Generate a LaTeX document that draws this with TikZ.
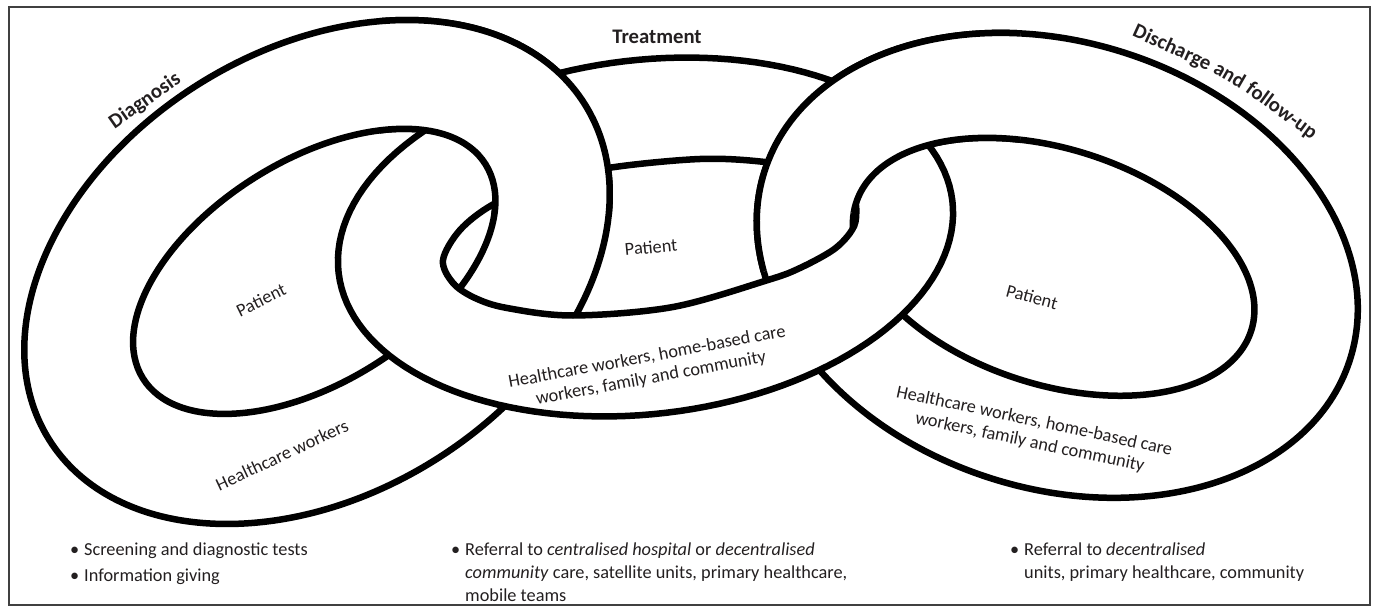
\documentclass[tikz,border=0pt]{standalone}
\usepackage{fontspec}
\setmainfont{Carlito}
\usetikzlibrary{calc}
\definecolor{txt}{RGB}{35,31,32}
\newcommand\ttlfont{\fontsize{20.7}{24}\selectfont\bfseries}
\newcommand\ringL{\path[ring, rotate around={32:(317,272)}] (317,272) ellipse [x radius=316, y radius=222] (315,270) ellipse [x radius=202, y radius=111];}
\newcommand\ringM{\path[ring]
  plot[domain=0:360, samples=145, variable=\t] ({645.5+309*cos(\t)*cos(6.7)-177*sin(\t)*sin(6.7)}, {237-309*cos(\t)*sin(6.7)-177*sin(\t)*cos(6.7)}) -- cycle
  plot[smooth cycle, tension=0.55] coordinates {(443,260) (453,283) (475,298) (507,308) (573,315.5) (673,307) (768,280) (800,268) (833,250) (850,233) (856,218) (852,195) (820,172) (765,162) (700,159) (608,168) (540,184) (492,205) (460,230)};}
\newcommand\ringR{\path[ring, rotate around={-18:(1056,266)}] (1057,265) ellipse [x radius=307.5, y radius=223] (1054,267.5) ellipse [x radius=207.6, y radius=117.6];}
\begin{document}
\begin{tikzpicture}[x=1pt,y=-1pt,
  ring/.style={draw=black, fill=white, even odd rule, line width=6.5pt},
  lbl/.style={font=\fontsize{18.3}{21.5}\selectfont, text=txt, align=center, inner sep=0pt},
  ttl/.style={font=\ttlfont, text=txt, inner sep=0pt},
  bul/.style={font=\fontsize{18.3}{23}\selectfont, text=txt, inner sep=0pt, anchor=base west}]
\useasboundingbox (0,0) rectangle (1375,612);
\draw[line width=2pt, draw=black!75] (9,7) rectangle (1370,605);

\ringL
\ringR
\ringM
\begin{scope}
  \clip (380,-10) rectangle (700,215);
  \ringL
\end{scope}
\begin{scope}
  \clip (700,-10) -- (1020,-10) -- (1020,212) -- (852,212) -- (830,240) -- (790,262) -- (740,280) -- (700,280) -- cycle;
  \ringR
\end{scope}

\node[ttl] (treat) at (657,37) {Treatment};
\node[ttl, rotate=35] (diag) at (145,101) {Diagnosis};
\node[ttl, rotate=-24.5] (dis1) at (1172,48) {Discharge};
\node[ttl, rotate=-30, anchor=base west] (dis2) at ($(dis1.base east)+(-27:4.7pt)$) {and};
\node[ttl, rotate=-36, anchor=base west] (dis3) at ($(dis2.base east)+(-33:4.7pt)$) {follow-up};

\node[lbl, rotate=26] (pL) at (261,300) {Patient};
\node[lbl, rotate=5.5] (pM) at (651,247) {Patient};
\node[lbl, rotate=-15] (pR) at (1032,297) {Patient};
\node[lbl, rotate=25] (hL) at (282,455) {Healthcare workers};
\node[lbl, rotate=10.5] (hM) at (649,368) {Healthcare workers, home-based care\\workers, family and community};
\node[lbl, rotate=-12] (hR) at (1032,432) {Healthcare workers, home-based care\\workers, family and community};

\node[bul] (b1) at (70,555) {\begin{tabular}[t]{@{}l@{}l@{}}\makebox[14pt][l]{\textbullet} & Screening and diagnostic tests\\[3pt]
  \makebox[14pt][l]{\textbullet} & Information giving\end{tabular}};
\node[bul] (b2) at (451,555) {\begin{tabular}[t]{@{}l@{}l@{}}\makebox[14pt][l]{\textbullet} & Referral to \textit{centralised hospital} or \textit{decentralised}\\
  & \textit{community} care, satellite units, primary healthcare,\\
  & mobile teams\end{tabular}};
\node[bul] (b3) at (1010,555) {\begin{tabular}[t]{@{}l@{}l@{}}\makebox[14pt][l]{\textbullet} & Referral to \textit{decentralised}\\
  & units, primary healthcare, community\end{tabular}};
\end{tikzpicture}
\end{document}
